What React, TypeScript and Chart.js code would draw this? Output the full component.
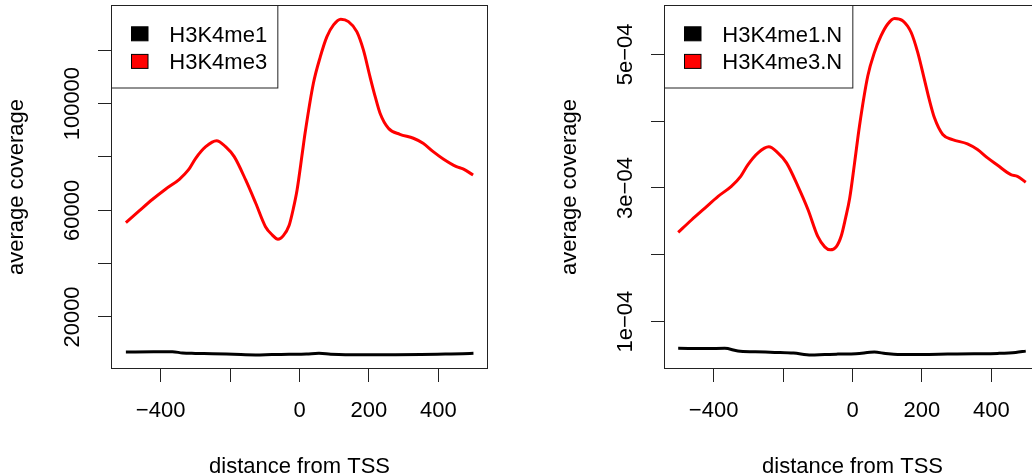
import React, { useEffect, useRef } from 'react';
import { Chart, registerables } from 'chart.js';

Chart.register(...registerables);

const FONT = "'Liberation Sans', Arial, Helvetica, sans-serif";
const FS = 22;

// ---------- left panel (raw coverage) ----------
const me3X = [-500, -461, -423, -385, -346, -320, -299, -270, -239, -213, -188, -155, -126, -98, -78, -62, -47, -30, -18, -7, 8, 16, 40, 60, 79, 98, 119, 141, 165, 184, 203, 218, 232, 256, 289, 328, 356, 385, 414, 452, 471, 500];
const me3Y = [55360, 59860, 64140, 68000, 71640, 75125, 79510, 83860, 86110, 83860, 80110, 71375, 62640, 53860, 50700, 49140, 50400, 54300, 60500, 67625, 81390, 88890, 107640, 117610, 125110, 129500, 131640, 130740, 126990, 120125, 110110, 102610, 96390, 90760, 88510, 87010, 85140, 81990, 79250, 76360, 75500, 73250];
const me1X = [-500, -420, -366, -337, -300, -251, -190, -126, -80, -30, 20, 56, 90, 132, 200, 276, 350, 420, 470, 501];
const me1Y = [6875, 6950, 6990, 6500, 6350, 6240, 6000, 5750, 5900, 6010, 6150, 6390, 6050, 5860, 5850, 5860, 5950, 6125, 6250, 6390];

// ---------- right panel (normalised coverage) ----------
const me3NX = [-502, -463, -425, -387, -349, -322, -301, -272, -241, -215, -190, -157, -128, -100, -80, -64, -47, -32, -20, -8, 6, 20, 44, 63, 82, 101, 121, 145, 169, 188, 207, 221, 236, 260, 288, 331, 360, 389, 418, 456, 475, 499];
const me3NY = [2.335e-4, 2.525e-4, 2.70e-4, 2.875e-4, 3.025e-4, 3.175e-4, 3.35e-4, 3.526e-4, 3.616e-4, 3.526e-4, 3.376e-4, 3.025e-4, 2.675e-4, 2.275e-4, 2.12e-4, 2.075e-4, 2.12e-4, 2.29e-4, 2.55e-4, 2.85e-4, 3.376e-4, 3.925e-4, 4.675e-4, 5.025e-4, 5.275e-4, 5.45e-4, 5.536e-4, 5.50e-4, 5.326e-4, 5.025e-4, 4.625e-4, 4.325e-4, 4.05e-4, 3.80e-4, 3.725e-4, 3.66e-4, 3.575e-4, 3.45e-4, 3.34e-4, 3.20e-4, 3.175e-4, 3.085e-4];
const me1NX = [-502, -420, -368, -330, -280, -224, -170, -119, -80, -42, 10, 63, 95, 130, 200, 274, 350, 418, 470, 499];
const me1NY = [0.601e-4, 0.600e-4, 0.601e-4, 0.561e-4, 0.550e-4, 0.541e-4, 0.530e-4, 0.500e-4, 0.510e-4, 0.515e-4, 0.520e-4, 0.545e-4, 0.525e-4, 0.510e-4, 0.510e-4, 0.515e-4, 0.520e-4, 0.526e-4, 0.540e-4, 0.560e-4];

// ---------- axes ----------
const xRange = [-540, 540];
const xTicks = [-400, -200, 0, 200, 400];
const xTickLabels = ['\u2212400', '', '0', '200', '400'];
const yRangeLeft = [875, 136600];
const yTicksLeft = [20000, 40000, 60000, 80000, 100000, 120000];
const yTickLabelsLeft = ['20000', '', '60000', '', '100000', ''];
const yRangeRight = [0.3074e-4, 5.7225e-4];
const yTicksRight = [1e-4, 2e-4, 3e-4, 4e-4, 5e-4];
const yTickLabelsRight = ['1e\u221204', '', '3e\u221204', '', '5e\u221204'];
const xTitle = 'distance from TSS';
const yTitle = 'average coverage';
const labelsLeft = ['H3K4me1', 'H3K4me3'];
const labelsRight = ['H3K4me1.N', 'H3K4me3.N'];
const seriesColors = ['#000000', '#ff0000'];

const W = 553;
const H = 476;
const AREA = { left: 112, right: 487, top: 6, bottom: 368 };
const TICK_LEN = 14;

const zip = (xs: number[], ys: number[]) => xs.map((x, i) => ({ x, y: ys[i] }));

const measure = (txt: string) => {
  const c = document.createElement('canvas').getContext('2d')!;
  c.font = `${FS}px ${FONT}`;
  return c.measureText(txt).width;
};

const framePlugin = {
  id: 'rFrame',
  afterDraw(chart: any) {
    const { ctx, chartArea: a } = chart;
    ctx.save();
    ctx.strokeStyle = '#222';
    ctx.lineWidth = 1;
    ctx.strokeRect(a.left - 0.5, a.top - 0.5, a.right - a.left + 1, a.bottom - a.top + 1);
    // legend (R-style boxed legend at top-left)
    ctx.font = `${FS}px ${FONT}`;
    const items = chart.data.datasets;
    const maxW = Math.max(...items.map((d: any) => ctx.measureText(d.label).width));
    const L = a.left - 0.5;
    const T = a.top - 0.5;
    const bw = 57.5 + maxW + 11;
    const bh = 82.5;
    ctx.fillStyle = '#ffffff';
    ctx.fillRect(L, T, bw, bh);
    ctx.strokeRect(L, T, bw, bh);
    items.forEach((d: any, i: number) => {
      const cy = T + 28.3 + 27.6 * i;
      ctx.fillStyle = d.borderColor;
      ctx.fillRect(L + 20, cy - 7, 16.5, 14);
      ctx.strokeStyle = '#000';
      ctx.strokeRect(L + 20, cy - 7, 16.5, 14);
      ctx.fillStyle = '#000';
      ctx.textAlign = 'left';
      ctx.textBaseline = 'alphabetic';
      ctx.fillText(d.label, L + 57.8, T + 36 + 27.6 * i);
    });
    ctx.restore();
  },
};

type PanelProps = {
  series: { label: string; color: string; data: { x: number; y: number }[] }[];
  yRange: number[];
  yTicks: number[];
  yTickLabels: string[];
};

function Panel({ series, yRange, yTicks, yTickLabels }: PanelProps) {
  const ref = useRef<HTMLCanvasElement>(null);
  useEffect(() => {
    const widest = Math.max(...yTickLabels.map(measure));
    const yPad = 112 - 73.2 - TICK_LEN - widest / 2;
    const font = { family: FONT, size: FS, lineHeight: 1 };
    const grid = {
      display: true,
      drawOnChartArea: false,
      drawTicks: true,
      tickLength: TICK_LEN,
      color: '#222',
      lineWidth: 1,
    };
    const chart = new Chart(ref.current!, {
      type: 'line',
      data: {
        datasets: series.map((s) => ({
          label: s.label,
          data: s.data,
          borderColor: s.color,
          backgroundColor: s.color,
          borderWidth: 3,
          pointRadius: 0,
          fill: false,
          cubicInterpolationMode: 'monotone' as const,
        })),
      },
      options: {
        responsive: false,
        animation: false,
        devicePixelRatio: 1,
        layout: { padding: { left: 0, top: AREA.top, right: W - AREA.right, bottom: 0 } },
        plugins: { legend: { display: false }, tooltip: { enabled: false } },
        scales: {
          x: {
            type: 'linear',
            min: xRange[0],
            max: xRange[1],
            afterBuildTicks: (s: any) => {
              s.ticks = xTicks.map((v) => ({ value: v }));
            },
            afterFit: (s: any) => {
              s.height = H - AREA.bottom;
            },
            grid,
            border: { display: false },
            ticks: {
              autoSkip: false,
              minRotation: 0,
              maxRotation: 0,
              padding: 17.6,
              color: '#000',
              font,
              callback: (_v: any, i: number) => xTickLabels[i],
            },
            title: {
              display: true,
              text: xTitle,
              color: '#000',
              font,
              padding: { top: 0, bottom: -1.5 },
            },
          },
          y: {
            type: 'linear',
            min: yRange[0],
            max: yRange[1],
            afterBuildTicks: (s: any) => {
              s.ticks = yTicks.map((v) => ({ value: v }));
            },
            afterFit: (s: any) => {
              s.width = AREA.left;
            },
            grid,
            border: { display: false },
            ticks: {
              autoSkip: false,
              minRotation: 90,
              maxRotation: 90,
              crossAlign: 'center',
              padding: yPad,
              color: '#000',
              font,
              callback: (_v: any, i: number) => yTickLabels[i],
            },
            title: {
              display: true,
              text: yTitle,
              color: '#000',
              font,
              padding: { top: 5.5, bottom: 0 },
            },
          },
        },
      },
      plugins: [framePlugin],
    } as any);
    return () => chart.destroy();
  }, []);
  return <canvas ref={ref} width={W} height={H} style={{ display: 'block' }} />;
}

export default function App() {
  const left = [
    { label: labelsLeft[0], color: seriesColors[0], data: zip(me1X, me1Y) },
    { label: labelsLeft[1], color: seriesColors[1], data: zip(me3X, me3Y) },
  ];
  const right = [
    { label: labelsRight[0], color: seriesColors[0], data: zip(me1NX, me1NY) },
    { label: labelsRight[1], color: seriesColors[1], data: zip(me3NX, me3NY) },
  ];
  return (
    <div
      style={{
        position: 'absolute',
        left: 0,
        top: 0,
        width: 1032,
        height: 476,
        overflow: 'hidden',
        background: '#fff',
      }}
    >
      <div style={{ position: 'absolute', left: 0, top: 0, width: W, height: H }}>
        <Panel series={left} yRange={yRangeLeft} yTicks={yTicksLeft} yTickLabels={yTickLabelsLeft} />
      </div>
      <div style={{ position: 'absolute', left: 553, top: 0, width: W, height: H }}>
        <Panel series={right} yRange={yRangeRight} yTicks={yTicksRight} yTickLabels={yTickLabelsRight} />
      </div>
    </div>
  );
}
